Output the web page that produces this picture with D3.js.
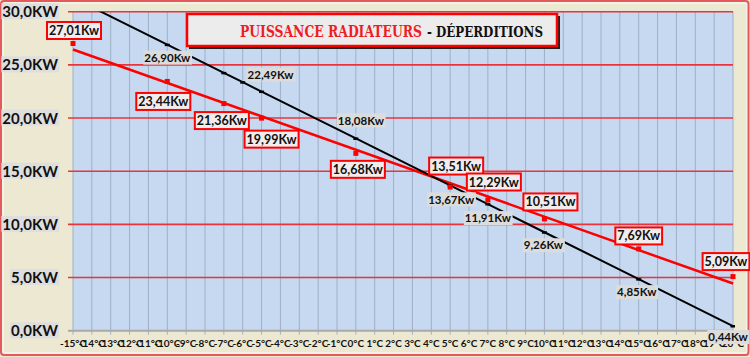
<!DOCTYPE html>
<html><head><meta charset="utf-8">
<script src="https://cdn.jsdelivr.net/npm/d3@7"></script>
<style>html,body{margin:0;padding:0;background:#fff;}svg{display:block;}</style>
</head><body>
<svg id="chart" width="750" height="357"></svg>
<script>
// ---- data ----
const titleRed = "PUISSANCE RADIATEURS";
const titleBlack = "- DÉPERDITIONS";
const xTickValues = [-15,-14,-13,-12,-11,-10,-9,-8,-7,-6,-5,-4,-3,-2,-1,0,1,2,3,4,5,6,7,8,9,10,11,12,13,14,15,16,17,18,19,20];
const xTickLabels = xTickValues.map(v => v + "°C");
const yTickValues = [0,5,10,15,20,25,30];
const yTickLabels = ["0,0KW","5,0KW","10,0KW","15,0KW","20,0KW","25,0KW","30,0KW"];

// Puissance radiateurs (red markers + linear trendline)
const puissanceTemp = [-15,-10,-7,-5,0,5,7,10,15,20];
const puissanceKw   = [27.01,23.44,21.36,19.99,16.68,13.51,12.29,10.51,7.69,5.09];
const puissanceLbl  = ["27,01Kw","23,44Kw","21,36Kw","19,99Kw","16,68Kw","13,51Kw","12,29Kw","10,51Kw","7,69Kw","5,09Kw"];

// Déperditions (black line)
const deperdTemp = [-15,-10,-7,-6,-5,0,5,7,10,15,20];
const deperdKw   = [31.31,26.90,24.25,23.37,22.49,18.08,13.67,11.91,9.26,4.85,0.44];
const deperdLbl  = ["","26,90Kw","","","22,49Kw","18,08Kw","13,67Kw","11,91Kw","9,26Kw","4,85Kw","0,44Kw"];

// ---- layout (label offsets in px, styling only) ----
const redOff = [[1,-13],[-4,20],[-2,17],[10,21],[2,16],[6,-21],[6,-18],[6,-17],[0,-13],[-7,-15]];
const blkOff = [[0,0],[0,13],[0,0],[0,0],[9,-17],[5,-18],[1,14],[0,14],[-1,13],[-2,13],[-5,11]];

const W = 750, H = 357;
const X0 = 73, X1 = 733, YT = 11.7, YB = 330.7;
const svg = d3.select("#chart");
const x = d3.scaleLinear().domain([-15,20]).range([X0,X1]);
const y = d3.scaleLinear().domain([0,30]).range([YB,YT]);

// background + border
svg.append("rect").attr("x",0).attr("y",0).attr("width",W).attr("height",H).attr("fill","#ece8d2");
svg.append("rect").attr("x",3).attr("y",3).attr("width",W-6).attr("height",H-7).attr("fill","none")
   .attr("stroke","#f7f5ee").attr("stroke-width",1.5);
svg.append("rect").attr("x",1).attr("y",1).attr("width",W-2.5).attr("height",H-3).attr("rx",3)
   .attr("fill","none").attr("stroke","#e45a5a").attr("stroke-width",2);

// plot area
svg.append("rect").attr("x",X0).attr("y",YT).attr("width",X1-X0).attr("height",YB-YT).attr("fill","#c6d9f1");

// vertical gridlines
svg.append("g").selectAll("line").data(xTickValues).join("line")
  .attr("x1",d=>x(d)).attr("x2",d=>x(d)).attr("y1",YT).attr("y2",YB+4)
  .attr("stroke","#9fb1c6").attr("stroke-width",1);

// horizontal gridlines
svg.append("g").selectAll("line").data(yTickValues.filter(v=>v>0)).join("line")
  .attr("x1",X0-5).attr("x2",X1).attr("y1",d=>y(d)).attr("y2",d=>y(d))
  .attr("stroke","#e8343a").attr("stroke-width",1.6);
// x axis line
svg.append("line").attr("x1",X0-5).attr("x2",X1).attr("y1",YB).attr("y2",YB)
  .attr("stroke","#a9a9a9").attr("stroke-width",2);

// y axis labels
const yAxisG = svg.append("g");
yTickValues.forEach((v,i)=>{
  const g = yAxisG.append("g");
  const t = g.append("text").attr("x",58).attr("y",y(v)+5.5).attr("text-anchor","end")
    .attr("font-family","Lato, 'Open Sans', sans-serif").attr("font-weight","bold").attr("font-size",15)
    .attr("fill","#111").text(yTickLabels[i]);
  const bb = t.node().getBBox();
  g.insert("rect","text").attr("x",bb.x-1).attr("y",bb.y+1).attr("width",bb.width+2).attr("height",bb.height-2).attr("fill","#dedede");
});

// x axis labels
svg.append("g").selectAll("text").data(xTickValues).join("text")
  .attr("x",d=>x(d)).attr("y",346.5).attr("text-anchor","middle")
  .attr("font-family","Lato, 'Open Sans', sans-serif").attr("font-weight","bold").attr("font-size",10)
  .attr("fill","#111").text((d,i)=>xTickLabels[i]);

// clip for lines
svg.append("clipPath").attr("id","plotclip").append("rect")
  .attr("x",X0-2).attr("y",YT).attr("width",X1-X0+4).attr("height",YB-YT+4);

// red trendline (least squares from puissance data)
const mx = d3.mean(puissanceTemp), my = d3.mean(puissanceKw);
const sxy = d3.sum(puissanceTemp.map((t,i)=>(t-mx)*(puissanceKw[i]-my)));
const sxx = d3.sum(puissanceTemp.map(t=>(t-mx)*(t-mx)));
const slope = sxy/sxx, icpt = my - slope*mx;
const trend = [-15,20].map(t=>[t, icpt + slope*t]);
const line = d3.line().x(d=>x(d[0])).y(d=>y(d[1]));
svg.append("path").attr("clip-path","url(#plotclip)").attr("d",line(trend))
  .attr("fill","none").attr("stroke","#ff0000").attr("stroke-width",2.5);

// black déperditions line
const blkData = deperdTemp.map((t,i)=>[t,deperdKw[i]]);
svg.append("path").attr("clip-path","url(#plotclip)").attr("d",line(blkData))
  .attr("fill","none").attr("stroke","#000").attr("stroke-width",2);
svg.append("g").attr("clip-path","url(#plotclip)").selectAll("rect").data(blkData).join("rect")
  .attr("x",d=>x(d[0])-2.5).attr("y",d=>y(d[1])-1).attr("width",5).attr("height",2.5).attr("fill","#000");

// red markers
svg.append("g").selectAll("rect").data(puissanceTemp).join("rect")
  .attr("x",d=>x(d)-2.5).attr("y",(d,i)=>y(puissanceKw[i])-2.5).attr("width",5).attr("height",5).attr("fill","#ff0000");

// title box
svg.append("rect").attr("x",189).attr("y",16).attr("width",371).attr("height",33).attr("fill","#222");
svg.append("rect").attr("x",187).attr("y",14).attr("width",370).attr("height",32).attr("fill","#ececec")
  .attr("stroke","#ff0000").attr("stroke-width",2.5);
svg.append("text").attr("x",240).attr("y",37).attr("font-family","'DejaVu Serif', serif").attr("font-weight","bold")
  .attr("font-size",16).attr("fill","#ee1c25").attr("textLength",182).attr("lengthAdjust","spacingAndGlyphs").text(titleRed);
svg.append("text").attr("x",427).attr("y",37).attr("font-family","'DejaVu Serif', serif").attr("font-weight","bold")
  .attr("font-size",15).attr("fill","#111").attr("textLength",116).attr("lengthAdjust","spacingAndGlyphs").text(titleBlack);

// black labels
const lblFont = "Lato, 'Open Sans', sans-serif";
deperdTemp.forEach((t,i)=>{
  if(!deperdLbl[i]) return;
  const cx = x(t)+blkOff[i][0], cy = y(deperdKw[i])+blkOff[i][1];
  const g = svg.append("g");
  const tx = g.append("text").attr("x",cx).attr("y",cy+4.2).attr("text-anchor","middle")
    .attr("font-family",lblFont).attr("font-weight","bold").attr("font-size",11.5).attr("fill","#111").text(deperdLbl[i]);
  const bb = tx.node().getBBox();
  g.insert("rect","text").attr("x",bb.x-1).attr("y",cy-7).attr("width",bb.width+2).attr("height",14).attr("fill","#dcdcdc");
});

// red labels
puissanceTemp.forEach((t,i)=>{
  const cx = x(t)+redOff[i][0], cy = y(puissanceKw[i])+redOff[i][1];
  const g = svg.append("g");
  const tx = g.append("text").attr("x",cx).attr("y",cy+4.5).attr("text-anchor","middle")
    .attr("font-family",lblFont).attr("font-weight","bold").attr("font-size",12.5).attr("fill","#111").text(puissanceLbl[i]);
  const bb = tx.node().getBBox();
  g.insert("rect","text").attr("x",bb.x-2).attr("y",cy-8.5).attr("width",bb.width+4).attr("height",17)
    .attr("fill","#f3ecec").attr("stroke","#ff0000").attr("stroke-width",2);
});
</script>
</body></html>
